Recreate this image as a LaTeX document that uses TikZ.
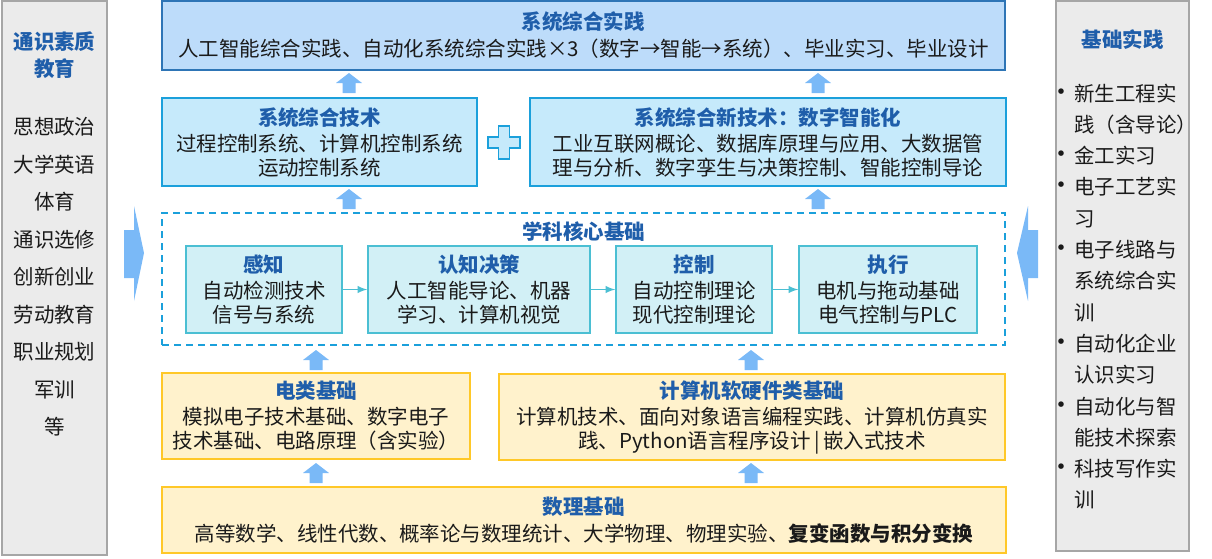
\documentclass[tikz,border=0pt]{standalone}
\usepackage{fontspec}
\setmainfont{Noto Sans CJK SC}
\definecolor{txt}{RGB}{26,26,26}
\definecolor{ttlblue}{RGB}{31,94,170}
\definecolor{grayfill}{RGB}{235,235,235}
\definecolor{grayline}{RGB}{166,166,166}
\definecolor{topfill}{RGB}{189,220,250}
\definecolor{topline}{RGB}{46,117,182}
\definecolor{techfill}{RGB}{198,234,251}
\definecolor{techline}{RGB}{27,160,219}
\definecolor{corefill}{RGB}{210,240,246}
\definecolor{coreline}{RGB}{75,191,211}
\definecolor{yelfill}{RGB}{255,242,204}
\definecolor{yelline}{RGB}{255,200,40}
\definecolor{arrcol}{RGB}{122,185,247}
\newcommand{\boxtitle}[1]{\textcolor{ttlblue}{\bfseries #1}}
\begin{document}
\begin{tikzpicture}[x=0.5pt,y=-0.5pt,>=latex,
  every node/.style={font=\fontsize{10.25}{12}\selectfont,text=txt,inner sep=0pt},
  sidebox/.style={draw=grayline,fill=grayfill,line width=0.6pt},
  topbox/.style={draw=topline,fill=topfill,line width=0.9pt,align=center},
  techbox/.style={draw=techline,fill=techfill,line width=0.7pt,align=center,minimum height=44pt},
  corebox/.style={draw=coreline,fill=corefill,line width=0.7pt,align=center,minimum height=43.5pt},
  yelbox/.style={draw=yelline,fill=yelfill,line width=0.7pt,align=center},
  uparr/.pic={\fill[arrcol] (-6.5,10) -- (-6.5,0) -- (-13,0) -- (0,-10) -- (13,0) -- (6.5,0) -- (6.5,10) -- cycle;}]
\useasboundingbox (0,0) rectangle (1212,558);
% left and right columns
\node[sidebox,minimum width=52.5pt,minimum height=277pt] (gen) at (54.5,278) {};
\node[align=center,font=\fontsize{10.25}{13.5}\selectfont] (gentitle) at (54.5,55) {\boxtitle{通识素质}\\\boxtitle{教育}};
\foreach \t [count=\i from 0] in {思想政治,大学英语,体育,通识选修,创新创业,劳动教育,职业规划,军训,等}
  \node (l\i) at (54.5,127+37.5*\i) {\t};
\node[sidebox,minimum width=66.5pt,minimum height=275pt] (base) at (1122.5,276) {};
\node (basetitle) at (1122.5,40) {\boxtitle{基础实践}};
\foreach \t/\b [count=\i from 0] in {新生工程实/1,践（含导论）/0,金工实习/1,电子工艺实/1,习/0,电子线路与/1,系统综合实/0,训/0,自动化企业/1,认识实习/0,自动化与智/1,能技术探索/0,科技写作实/1,训/0}{
  \node[anchor=base west] (r\i) at (1074,101+31.3*\i) {\t};
  \ifnum\b=1 \node[anchor=base,font=\fontsize{13}{13}\selectfont] (rb\i) at (1061,101+31.3*\i) {•};\fi
}
% side arrows
\fill[arrcol] (124,230) -- (134,230) -- (134,206) -- (144,253) -- (134,301) -- (134,278) -- (124,278) -- cycle;
\fill[arrcol] (1038,230) -- (1028,230) -- (1028,206) -- (1017,253) -- (1028,301) -- (1028,278) -- (1038,278) -- cycle;
% top
\node[topbox,minimum width=421.5pt,minimum height=34.5pt] (prac) at (583.5,35.5)
  {\boxtitle{系统综合实践}\\[1.5pt]人工智能综合实践、自动化系统综合实践×3（数字→智能→系统）、毕业实习、毕业设计};
\pic at (349,83) {uparr};
\pic at (818,83) {uparr};
\node[techbox,minimum width=157.5pt] (tech) at (319.5,142)
  {\boxtitle{系统综合技术}\\[1pt]过程控制系统、计算机控制系统\\运动控制系统};
\node[techbox,minimum width=238pt] (newtech) at (768,142)
  {\boxtitle{系统综合新技术：数字智能化}\\[1pt]工业互联网概论、数据库原理与应用、大数据管\\理与分析、数字孪生与决策控制、智能控制导论};
\draw[techline,fill=techfill,line width=0.7pt] (498.5,126) -- (509.5,126) -- (509.5,137) -- (520,137) -- (520,148) -- (509.5,148) -- (509.5,159) -- (498.5,159) -- (498.5,148) -- (488,148) -- (488,137) -- (498.5,137) -- cycle;
\pic at (349,199) {uparr};
\pic at (818,199) {uparr};
% core
\node[draw=techline,dash pattern=on 3.5pt off 2.5pt,line width=0.8pt,minimum width=421.5pt,minimum height=66pt] (core) at (583.5,279) {};
\node (coretitle) at (583.5,232) {\boxtitle{学科核心基础}};
\node[corebox,minimum width=78pt] (sense) at (264,289.5) {\boxtitle{感知}\\[1pt]自动检测技术\\信号与系统};
\node[corebox,minimum width=111pt] (decide) at (479,289.5) {\boxtitle{认知决策}\\[1pt]人工智能导论、机器\\学习、计算机视觉};
\node[corebox,minimum width=78pt] (ctrl) at (694,289.5) {\boxtitle{控制}\\[1pt]自动控制理论\\现代控制理论};
\node[corebox,minimum width=89pt] (act) at (888,289.5) {\boxtitle{执行}\\[1pt]电机与拖动基础\\电气控制与PLC};
\draw[->,coreline,line width=0.7pt] (sense) -- (decide);
\draw[->,coreline,line width=0.7pt] (decide) -- (ctrl);
\draw[->,coreline,line width=0.7pt] (ctrl) -- (act);
\pic at (316,360) {uparr};
\pic at (751,360) {uparr};
% foundations
\node[yelbox,minimum width=154pt,minimum height=43pt] (elec) at (316,416)
  {\boxtitle{电类基础}\\[1pt]模拟电子技术基础、数字电子\\技术基础、电路原理（含实验）};
\node[yelbox,minimum width=253pt,minimum height=43pt] (comp) at (752,417)
  {\boxtitle{计算机软硬件类基础}\\[1pt]计算机技术、面向对象语言编程实践、计算机仿真实\\践、Python语言程序设计\,|\,嵌入式技术};
\pic at (316,473) {uparr};
\pic at (751,473) {uparr};
\node[yelbox,minimum width=422pt,minimum height=33pt] (math) at (584,520)
  {\boxtitle{数理基础}\\[1.5pt]高等数学、线性代数、概率论与数理统计、大学物理、物理实验、\textbf{复变函数与积分变换}};
\end{tikzpicture}
\end{document}
